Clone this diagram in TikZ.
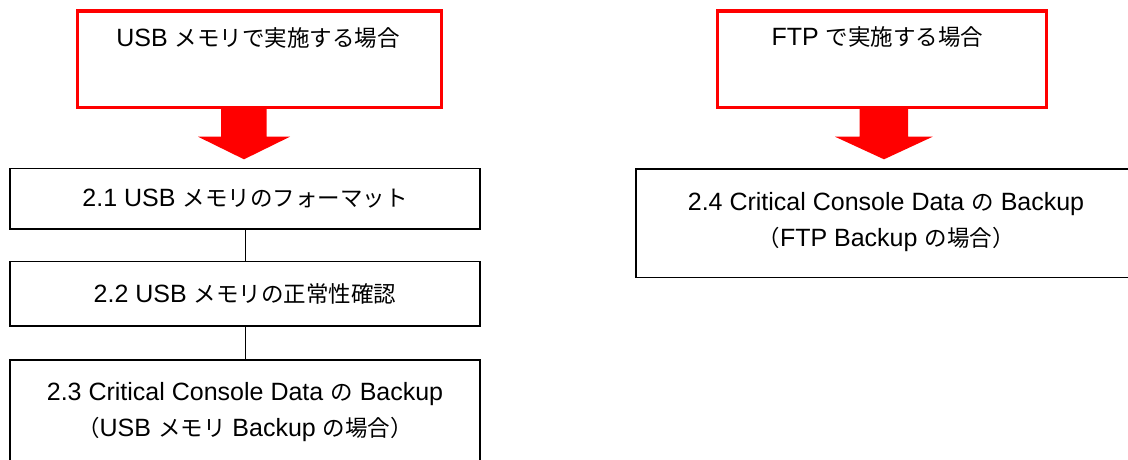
\documentclass[tikz,border=0pt]{standalone}
\usepackage{fontspec}
\setmainfont{Liberation Sans}
\newfontfamily\jpf[Scale=0.9]{Noto Sans CJK JP}
\begin{document}
\begin{tikzpicture}[x=1pt,y=-1pt,
  redbox/.style={draw=red, line width=3.5pt, fill=white},
  blkbox/.style={draw=black, line width=1.5pt},
  lbl/.style={font=\fontsize{25}{36}\selectfont, align=center, inner sep=0pt},
  conn/.style={draw=black, line width=1.3pt},
  bigarrow/.style={fill=red, draw=none}]
\useasboundingbox (0,0) rectangle (1128,459);
\clip (0,0) rectangle (1128,459);
% left column
\draw[redbox] (77.5,11) rectangle (441.5,107.5);
\node[lbl] (usbhead) at (258,38) {USB {\jpf メモリで実施する場合}};
\fill[bigarrow] (221,106) -- (266.7,106) -- (266.7,136.7) -- (290,136.7) -- (244,159.3) -- (198,136.7) -- (221,136.7) -- cycle;
\draw[blkbox] (10,168.3) rectangle (480,229);
\node[lbl] (s21) at (245,198.5) {2.1 USB {\jpf メモリのフォーマット}};
\draw[blkbox] (10,261.7) rectangle (480,326);
\node[lbl] (s22) at (245,294) {2.2 USB {\jpf メモリの正常性確認}};
\draw[blkbox] (10,360) rectangle (480,470);
\node[lbl] (s23) at (245,412.5) {2.3 Critical Console Data {\jpf の} Backup\\{\jpf （}USB {\jpf メモリ} Backup {\jpf の場合）}};
\coordinate (b21) at (245.7,229);
\coordinate (t22) at (245.7,261.7);
\coordinate (b22) at (245.7,326);
\coordinate (t23) at (245.7,360);
\draw[conn] (b21) -- (t22);
\draw[conn] (b22) -- (t23);
% right column
\draw[redbox] (717.3,11) rectangle (1046.7,107.7);
\node[lbl] (ftphead) at (877.5,37) {FTP {\jpf で実施する場合}};
\fill[bigarrow] (859.7,106) -- (908,106) -- (908,136.7) -- (932.7,136.7) -- (884,159.3) -- (835,136.7) -- (859.7,136.7) -- cycle;
\draw[blkbox] (636,169) rectangle (1140,277.5);
\node[lbl] (s24) at (886,222) {2.4 Critical Console Data {\jpf の} Backup\\{\jpf （}FTP Backup {\jpf の場合）}};
\end{tikzpicture}
\end{document}
